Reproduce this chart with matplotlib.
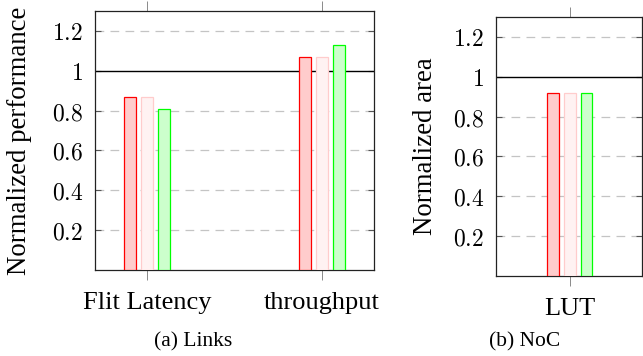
import matplotlib
matplotlib.use("Agg")
import matplotlib.pyplot as plt
import numpy as np

plt.rcParams["mathtext.fontset"] = "cm"

# Data
links_categories = ["Flit Latency", "throughput"]
links_series_a = [0.87, 1.07]   # red
links_series_b = [0.87, 1.07]   # light pink
links_series_c = [0.81, 1.13]   # green

noc_categories = ["LUT"]
noc_series_a = [0.92]
noc_series_b = [0.92]
noc_series_c = [0.92]

ytick_vals = [0.2, 0.4, 0.6, 0.8, 1.0, 1.2]
ytick_labels = ["0.2", "0.4", "0.6", "0.8", "1", "1.2"]

styles = [
    dict(facecolor="#ffcccc", edgecolor="#ff0000"),
    dict(facecolor="#fff2f2", edgecolor="#ffcccc"),
    dict(facecolor="#ccffcc", edgecolor="#00ff00"),
]

serif = ["Liberation Serif", "DejaVu Serif"]
W, H = 643, 356
fig = plt.figure(figsize=(W / 100, H / 100), dpi=100)


def make_axes(rect_px, categories, series, ylabel, xlim, label_coords):
    x0, y0, x1, y1 = rect_px
    ax = fig.add_axes([x0 / W, 1 - y1 / H, (x1 - x0) / W, (y1 - y0) / H])
    x = np.arange(len(categories))
    offset = 0.097
    width = 0.069
    for i, (vals, st) in enumerate(zip(series, styles)):
        ax.bar(x + (i - 1) * offset, vals, width=width, linewidth=0.9,
               zorder=3, **st)
    ax.set_xlim(*xlim)
    ax.set_ylim(0, 1.3)
    ax.set_yticks(ytick_vals)
    ax.set_yticklabels(["$" + t + "$" for t in ytick_labels], fontsize=17)
    ax.set_xticks(x)
    ax.set_xticklabels(categories, family=serif, fontsize=19)
    for v in ytick_vals:
        if abs(v - 1.0) > 1e-9:
            ax.axhline(v, color="#c4c4c4", lw=0.9, dashes=(7, 5), zorder=1)
    ax.axhline(1.0, color="black", lw=1.0, zorder=2)
    ax.tick_params(axis="y", direction="in", left=True, right=True,
                   length=4, width=0.8, color="#555555", pad=8.5)
    ax.tick_params(axis="x", direction="out", top=True, bottom=True,
                   length=7.5, width=0.6, color="#777777", pad=8.5)
    for s in ax.spines.values():
        s.set_linewidth(0.9)
        s.set_color("#222222")
    ax.set_ylabel(ylabel, family=serif, fontsize=19.3)
    ax.yaxis.set_label_coords(*label_coords)
    return ax


make_axes((95, 11, 374, 270), links_categories,
          [links_series_a, links_series_b, links_series_c],
          "Normalized performance", (-0.3, 1.3), (-0.225, 0.497))
make_axes((496, 17, 642, 276), noc_categories,
          [noc_series_a, noc_series_b, noc_series_c],
          "Normalized area", (-0.43, 0.42), (-0.40, 0.502))

fig.text(193.5 / W, 1 - 342 / H, "(a) Links", family=serif, fontsize=15.5,
         ha="center", va="center")
fig.text(525 / W, 1 - 342 / H, "(b) NoC", family=serif, fontsize=15.5,
         ha="center", va="center")

fig.savefig("out.png", dpi=100)
